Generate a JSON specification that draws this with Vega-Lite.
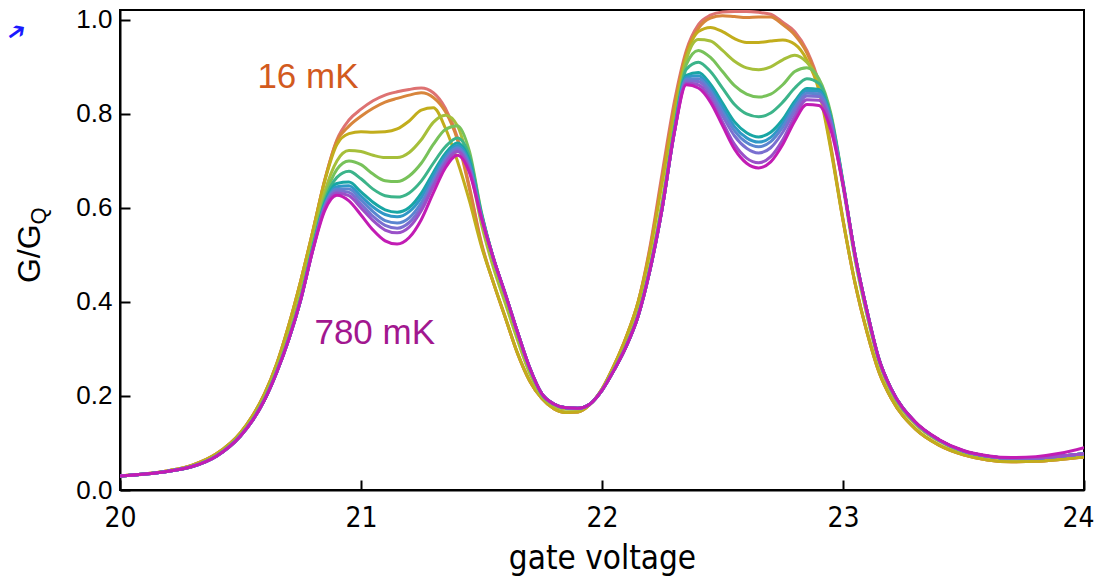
{
 "$schema": "https://vega.github.io/schema/vega-lite/v6.json",
 "width": 964, "height": 480,
 "autosize": {"type": "none"},
 "padding": {"left": 120, "top": 10, "right": 13, "bottom": 88},
 "background": "white",
 "config": {"view": {"stroke": "black", "strokeWidth": 2}, "font": "Liberation Sans"},
 "datasets": {
  "curves": [
{"c":0,"v":20,"g":0.030},{"c":0,"v":20.2,"g":0.041},{"c":0,"v":20.3,"g":0.053},{"c":0,"v":20.4,"g":0.077},{"c":0,"v":20.5,"g":0.122},{"c":0,"v":20.55,"g":0.158},{"c":0,"v":20.6,"g":0.205},{"c":0,"v":20.65,"g":0.268},{"c":0,"v":20.7,"g":0.35},{"c":0,"v":20.75,"g":0.445},{"c":0,"v":20.8,"g":0.55},
{"c":0,"v":20.85,"g":0.66},{"c":0,"v":20.9,"g":0.745},{"c":0,"v":20.95,"g":0.787},{"c":0,"v":21,"g":0.81},{"c":0,"v":21.05,"g":0.828},{"c":0,"v":21.1,"g":0.84},{"c":0,"v":21.15,"g":0.847},{"c":0,"v":21.2,"g":0.852},{"c":0,"v":21.25,"g":0.855},{"c":0,"v":21.3,"g":0.845},{"c":0,"v":21.35,"g":0.812},{"c":0,"v":21.4,"g":0.75},{"c":0,"v":21.45,"g":0.645},
{"c":0,"v":21.5,"g":0.525},{"c":0,"v":21.55,"g":0.44},{"c":0,"v":21.6,"g":0.365},{"c":0,"v":21.65,"g":0.29},{"c":0,"v":21.7,"g":0.232},{"c":0,"v":21.75,"g":0.195},{"c":0,"v":21.8,"g":0.173},{"c":0,"v":21.85,"g":0.165},{"c":0,"v":21.9,"g":0.166},{"c":0,"v":21.95,"g":0.182},{"c":0,"v":22,"g":0.215},{"c":0,"v":22.05,"g":0.265},{"c":0,"v":22.1,"g":0.325},{"c":0,"v":22.15,"g":0.40},{"c":0,"v":22.2,"g":0.52},{"c":0,"v":22.25,"g":0.675},{"c":0,"v":22.3,"g":0.825},
{"c":0,"v":22.35,"g":0.935},{"c":0,"v":22.4,"g":0.99},{"c":0,"v":22.45,"g":1.01},{"c":0,"v":22.5,"g":1.017},{"c":0,"v":22.55,"g":1.018},{"c":0,"v":22.6,"g":1.018},{"c":0,"v":22.65,"g":1.016},{"c":0,"v":22.7,"g":1.012},{"c":0,"v":22.75,"g":0.995},{"c":0,"v":22.8,"g":0.975},{"c":0,"v":22.85,"g":0.935},{"c":0,"v":22.9,"g":0.865},{"c":0,"v":22.95,"g":0.73},{"c":0,"v":23,"g":0.575},{"c":0,"v":23.05,"g":0.44},{"c":0,"v":23.1,"g":0.335},{"c":0,"v":23.15,"g":0.25},{"c":0,"v":23.2,"g":0.195},
{"c":0,"v":23.3,"g":0.13},{"c":0,"v":23.4,"g":0.095},{"c":0,"v":23.5,"g":0.075},{"c":0,"v":23.6,"g":0.064},{"c":0,"v":23.7,"g":0.06},{"c":0,"v":23.8,"g":0.061},{"c":0,"v":23.9,"g":0.065},{"c":0,"v":24,"g":0.07},

{"c":1,"v":20,"g":0.030},{"c":1,"v":20.2,"g":0.041},{"c":1,"v":20.3,"g":0.053},{"c":1,"v":20.4,"g":0.077},{"c":1,"v":20.5,"g":0.122},{"c":1,"v":20.55,"g":0.158},{"c":1,"v":20.6,"g":0.205},{"c":1,"v":20.65,"g":0.268},{"c":1,"v":20.7,"g":0.35},{"c":1,"v":20.75,"g":0.445},{"c":1,"v":20.8,"g":0.55},
{"c":1,"v":20.85,"g":0.66},{"c":1,"v":20.9,"g":0.742},{"c":1,"v":20.95,"g":0.774},{"c":1,"v":21,"g":0.795},{"c":1,"v":21.05,"g":0.812},{"c":1,"v":21.1,"g":0.825},{"c":1,"v":21.15,"g":0.833},{"c":1,"v":21.2,"g":0.84},{"c":1,"v":21.25,"g":0.845},{"c":1,"v":21.3,"g":0.835},{"c":1,"v":21.35,"g":0.805},{"c":1,"v":21.4,"g":0.745},{"c":1,"v":21.45,"g":0.64},
{"c":1,"v":21.5,"g":0.522},{"c":1,"v":21.55,"g":0.44},{"c":1,"v":21.6,"g":0.365},{"c":1,"v":21.65,"g":0.29},{"c":1,"v":21.7,"g":0.232},{"c":1,"v":21.75,"g":0.195},{"c":1,"v":21.8,"g":0.173},{"c":1,"v":21.85,"g":0.165},{"c":1,"v":21.9,"g":0.166},{"c":1,"v":21.95,"g":0.182},{"c":1,"v":22,"g":0.215},{"c":1,"v":22.05,"g":0.265},{"c":1,"v":22.1,"g":0.325},{"c":1,"v":22.15,"g":0.40},{"c":1,"v":22.2,"g":0.515},{"c":1,"v":22.25,"g":0.665},{"c":1,"v":22.3,"g":0.815},
{"c":1,"v":22.35,"g":0.93},{"c":1,"v":22.4,"g":0.982},{"c":1,"v":22.45,"g":1.004},{"c":1,"v":22.5,"g":1.009},{"c":1,"v":22.55,"g":1.007},{"c":1,"v":22.6,"g":1.005},{"c":1,"v":22.65,"g":1.006},{"c":1,"v":22.7,"g":1.006},{"c":1,"v":22.75,"g":0.99},{"c":1,"v":22.8,"g":0.968},{"c":1,"v":22.85,"g":0.93},{"c":1,"v":22.9,"g":0.86},{"c":1,"v":22.95,"g":0.727},{"c":1,"v":23,"g":0.575},{"c":1,"v":23.05,"g":0.44},{"c":1,"v":23.1,"g":0.335},{"c":1,"v":23.15,"g":0.25},{"c":1,"v":23.2,"g":0.195},
{"c":1,"v":23.3,"g":0.13},{"c":1,"v":23.4,"g":0.095},{"c":1,"v":23.5,"g":0.075},{"c":1,"v":23.6,"g":0.064},{"c":1,"v":23.7,"g":0.06},{"c":1,"v":23.8,"g":0.061},{"c":1,"v":23.9,"g":0.065},{"c":1,"v":24,"g":0.07},

{"c":2,"v":20,"g":0.030},{"c":2,"v":20.2,"g":0.041},{"c":2,"v":20.3,"g":0.053},{"c":2,"v":20.4,"g":0.077},{"c":2,"v":20.5,"g":0.122},{"c":2,"v":20.55,"g":0.158},{"c":2,"v":20.6,"g":0.205},{"c":2,"v":20.65,"g":0.268},{"c":2,"v":20.7,"g":0.35},{"c":2,"v":20.75,"g":0.445},{"c":2,"v":20.8,"g":0.55},
{"c":2,"v":20.85,"g":0.658},{"c":2,"v":20.9,"g":0.735},{"c":2,"v":20.95,"g":0.758},{"c":2,"v":21,"g":0.762},{"c":2,"v":21.05,"g":0.761},{"c":2,"v":21.1,"g":0.762},{"c":2,"v":21.15,"g":0.768},{"c":2,"v":21.2,"g":0.785},{"c":2,"v":21.25,"g":0.808},{"c":2,"v":21.3,"g":0.813},{"c":2,"v":21.35,"g":0.77},{"c":2,"v":21.4,"g":0.70},{"c":2,"v":21.45,"g":0.615},
{"c":2,"v":21.5,"g":0.518},{"c":2,"v":21.55,"g":0.44},{"c":2,"v":21.6,"g":0.365},{"c":2,"v":21.65,"g":0.29},{"c":2,"v":21.7,"g":0.232},{"c":2,"v":21.75,"g":0.195},{"c":2,"v":21.8,"g":0.173},{"c":2,"v":21.85,"g":0.165},{"c":2,"v":21.9,"g":0.166},{"c":2,"v":21.95,"g":0.182},{"c":2,"v":22,"g":0.215},{"c":2,"v":22.05,"g":0.265},{"c":2,"v":22.1,"g":0.325},{"c":2,"v":22.15,"g":0.40},{"c":2,"v":22.2,"g":0.51},{"c":2,"v":22.25,"g":0.655},{"c":2,"v":22.3,"g":0.805},
{"c":2,"v":22.35,"g":0.922},{"c":2,"v":22.4,"g":0.975},{"c":2,"v":22.45,"g":0.984},{"c":2,"v":22.5,"g":0.975},{"c":2,"v":22.55,"g":0.96},{"c":2,"v":22.6,"g":0.952},{"c":2,"v":22.65,"g":0.952},{"c":2,"v":22.7,"g":0.955},{"c":2,"v":22.75,"g":0.957},{"c":2,"v":22.8,"g":0.948},{"c":2,"v":22.85,"g":0.915},{"c":2,"v":22.9,"g":0.85},{"c":2,"v":22.95,"g":0.722},{"c":2,"v":23,"g":0.573},{"c":2,"v":23.05,"g":0.44},{"c":2,"v":23.1,"g":0.335},{"c":2,"v":23.15,"g":0.25},{"c":2,"v":23.2,"g":0.195},
{"c":2,"v":23.3,"g":0.13},{"c":2,"v":23.4,"g":0.095},{"c":2,"v":23.5,"g":0.075},{"c":2,"v":23.6,"g":0.064},{"c":2,"v":23.7,"g":0.06},{"c":2,"v":23.8,"g":0.061},{"c":2,"v":23.9,"g":0.065},{"c":2,"v":24,"g":0.07},

{"c":3,"v":20,"g":0.030},{"c":3,"v":20.2,"g":0.040},{"c":3,"v":20.3,"g":0.051},{"c":3,"v":20.4,"g":0.074},{"c":3,"v":20.5,"g":0.118},{"c":3,"v":20.55,"g":0.152},{"c":3,"v":20.6,"g":0.198},{"c":3,"v":20.65,"g":0.258},{"c":3,"v":20.7,"g":0.33},{"c":3,"v":20.75,"g":0.42},
{"c":3,"v":20.8,"g":0.53},{"c":3,"v":20.85,"g":0.635},{"c":3,"v":20.9,"g":0.70},{"c":3,"v":20.95,"g":0.722},{"c":3,"v":21,"g":0.72},{"c":3,"v":21.05,"g":0.712},{"c":3,"v":21.1,"g":0.707},{"c":3,"v":21.15,"g":0.707},{"c":3,"v":21.2,"g":0.718},{"c":3,"v":21.25,"g":0.745},{"c":3,"v":21.3,"g":0.782},{"c":3,"v":21.35,"g":0.797},{"c":3,"v":21.4,"g":0.775},{"c":3,"v":21.45,"g":0.69},{"c":3,"v":21.5,"g":0.565},
{"c":3,"v":21.55,"g":0.472},{"c":3,"v":21.6,"g":0.395},{"c":3,"v":21.65,"g":0.318},{"c":3,"v":21.7,"g":0.248},{"c":3,"v":21.75,"g":0.20},{"c":3,"v":21.8,"g":0.18},{"c":3,"v":21.85,"g":0.172},{"c":3,"v":21.9,"g":0.172},{"c":3,"v":21.95,"g":0.183},{"c":3,"v":22,"g":0.213},{"c":3,"v":22.05,"g":0.258},{"c":3,"v":22.1,"g":0.31},{"c":3,"v":22.15,"g":0.378},{"c":3,"v":22.2,"g":0.48},{"c":3,"v":22.25,"g":0.615},
{"c":3,"v":22.3,"g":0.78},{"c":3,"v":22.35,"g":0.915},{"c":3,"v":22.4,"g":0.958},{"c":3,"v":22.45,"g":0.955},{"c":3,"v":22.5,"g":0.935},{"c":3,"v":22.55,"g":0.912},{"c":3,"v":22.6,"g":0.898},{"c":3,"v":22.65,"g":0.894},{"c":3,"v":22.7,"g":0.90},{"c":3,"v":22.75,"g":0.915},{"c":3,"v":22.8,"g":0.925},{"c":3,"v":22.85,"g":0.91},{"c":3,"v":22.9,"g":0.87},{"c":3,"v":22.95,"g":0.78},{"c":3,"v":23,"g":0.645},
{"c":3,"v":23.05,"g":0.49},{"c":3,"v":23.1,"g":0.37},{"c":3,"v":23.15,"g":0.27},{"c":3,"v":23.2,"g":0.208},{"c":3,"v":23.3,"g":0.14},{"c":3,"v":23.4,"g":0.103},{"c":3,"v":23.5,"g":0.08},{"c":3,"v":23.6,"g":0.07},{"c":3,"v":23.7,"g":0.066},{"c":3,"v":23.8,"g":0.067},{"c":3,"v":23.9,"g":0.071},{"c":3,"v":24,"g":0.076},

{"c":4,"v":20,"g":0.030},{"c":4,"v":20.2,"g":0.040},{"c":4,"v":20.3,"g":0.050},{"c":4,"v":20.4,"g":0.073},{"c":4,"v":20.5,"g":0.116},{"c":4,"v":20.55,"g":0.150},{"c":4,"v":20.6,"g":0.195},{"c":4,"v":20.65,"g":0.254},{"c":4,"v":20.7,"g":0.325},{"c":4,"v":20.75,"g":0.412},
{"c":4,"v":20.8,"g":0.522},{"c":4,"v":20.85,"g":0.622},{"c":4,"v":20.9,"g":0.682},{"c":4,"v":20.95,"g":0.70},{"c":4,"v":21,"g":0.692},{"c":4,"v":21.05,"g":0.672},{"c":4,"v":21.1,"g":0.658},{"c":4,"v":21.15,"g":0.656},{"c":4,"v":21.2,"g":0.668},{"c":4,"v":21.25,"g":0.695},{"c":4,"v":21.3,"g":0.735},{"c":4,"v":21.35,"g":0.767},{"c":4,"v":21.4,"g":0.775},{"c":4,"v":21.45,"g":0.72},{"c":4,"v":21.5,"g":0.59},
{"c":4,"v":21.55,"g":0.492},{"c":4,"v":21.6,"g":0.413},{"c":4,"v":21.65,"g":0.333},{"c":4,"v":21.7,"g":0.258},{"c":4,"v":21.75,"g":0.204},{"c":4,"v":21.8,"g":0.182},{"c":4,"v":21.85,"g":0.175},{"c":4,"v":21.9,"g":0.174},{"c":4,"v":21.95,"g":0.183},{"c":4,"v":22,"g":0.212},{"c":4,"v":22.05,"g":0.256},{"c":4,"v":22.1,"g":0.307},{"c":4,"v":22.15,"g":0.373},{"c":4,"v":22.2,"g":0.475},{"c":4,"v":22.25,"g":0.607},
{"c":4,"v":22.3,"g":0.772},{"c":4,"v":22.35,"g":0.905},{"c":4,"v":22.4,"g":0.935},{"c":4,"v":22.45,"g":0.92},{"c":4,"v":22.5,"g":0.89},{"c":4,"v":22.55,"g":0.86},{"c":4,"v":22.6,"g":0.842},{"c":4,"v":22.65,"g":0.836},{"c":4,"v":22.7,"g":0.842},{"c":4,"v":22.75,"g":0.862},{"c":4,"v":22.8,"g":0.89},{"c":4,"v":22.85,"g":0.898},{"c":4,"v":22.9,"g":0.875},{"c":4,"v":22.95,"g":0.80},{"c":4,"v":23,"g":0.655},
{"c":4,"v":23.05,"g":0.50},{"c":4,"v":23.1,"g":0.38},{"c":4,"v":23.15,"g":0.277},{"c":4,"v":23.2,"g":0.214},{"c":4,"v":23.3,"g":0.144},{"c":4,"v":23.4,"g":0.106},{"c":4,"v":23.5,"g":0.083},{"c":4,"v":23.6,"g":0.072},{"c":4,"v":23.7,"g":0.068},{"c":4,"v":23.8,"g":0.068},{"c":4,"v":23.9,"g":0.072},{"c":4,"v":24,"g":0.077},

{"c":5,"v":20,"g":0.030},{"c":5,"v":20.2,"g":0.040},{"c":5,"v":20.3,"g":0.050},{"c":5,"v":20.4,"g":0.072},{"c":5,"v":20.5,"g":0.115},{"c":5,"v":20.55,"g":0.148},{"c":5,"v":20.6,"g":0.192},{"c":5,"v":20.65,"g":0.25},{"c":5,"v":20.7,"g":0.32},{"c":5,"v":20.75,"g":0.405},
{"c":5,"v":20.8,"g":0.515},{"c":5,"v":20.85,"g":0.615},{"c":5,"v":20.9,"g":0.665},{"c":5,"v":20.95,"g":0.678},{"c":5,"v":21,"g":0.662},{"c":5,"v":21.05,"g":0.64},{"c":5,"v":21.1,"g":0.626},{"c":5,"v":21.15,"g":0.623},{"c":5,"v":21.2,"g":0.632},{"c":5,"v":21.25,"g":0.657},{"c":5,"v":21.3,"g":0.695},{"c":5,"v":21.35,"g":0.73},{"c":5,"v":21.4,"g":0.749},{"c":5,"v":21.45,"g":0.71},{"c":5,"v":21.5,"g":0.588},
{"c":5,"v":21.55,"g":0.492},{"c":5,"v":21.6,"g":0.415},{"c":5,"v":21.65,"g":0.335},{"c":5,"v":21.7,"g":0.26},{"c":5,"v":21.75,"g":0.205},{"c":5,"v":21.8,"g":0.183},{"c":5,"v":21.85,"g":0.175},{"c":5,"v":21.9,"g":0.174},{"c":5,"v":21.95,"g":0.183},{"c":5,"v":22,"g":0.212},{"c":5,"v":22.05,"g":0.255},{"c":5,"v":22.1,"g":0.305},{"c":5,"v":22.15,"g":0.37},{"c":5,"v":22.2,"g":0.47},{"c":5,"v":22.25,"g":0.60},
{"c":5,"v":22.3,"g":0.765},{"c":5,"v":22.35,"g":0.895},{"c":5,"v":22.4,"g":0.91},{"c":5,"v":22.45,"g":0.89},{"c":5,"v":22.5,"g":0.855},{"c":5,"v":22.55,"g":0.82},{"c":5,"v":22.6,"g":0.80},{"c":5,"v":22.65,"g":0.794},{"c":5,"v":22.7,"g":0.802},{"c":5,"v":22.75,"g":0.825},{"c":5,"v":22.8,"g":0.855},{"c":5,"v":22.85,"g":0.875},{"c":5,"v":22.9,"g":0.865},{"c":5,"v":22.95,"g":0.795},{"c":5,"v":23,"g":0.655},
{"c":5,"v":23.05,"g":0.50},{"c":5,"v":23.1,"g":0.38},{"c":5,"v":23.15,"g":0.277},{"c":5,"v":23.2,"g":0.215},{"c":5,"v":23.3,"g":0.144},{"c":5,"v":23.4,"g":0.106},{"c":5,"v":23.5,"g":0.083},{"c":5,"v":23.6,"g":0.072},{"c":5,"v":23.7,"g":0.068},{"c":5,"v":23.8,"g":0.068},{"c":5,"v":23.9,"g":0.072},{"c":5,"v":24,"g":0.077},

{"c":6,"v":20,"g":0.030},{"c":6,"v":20.2,"g":0.040},{"c":6,"v":20.3,"g":0.050},{"c":6,"v":20.4,"g":0.072},{"c":6,"v":20.5,"g":0.115},{"c":6,"v":20.55,"g":0.148},{"c":6,"v":20.6,"g":0.192},{"c":6,"v":20.65,"g":0.25},{"c":6,"v":20.7,"g":0.32},{"c":6,"v":20.75,"g":0.405},
{"c":6,"v":20.8,"g":0.515},{"c":6,"v":20.85,"g":0.61},{"c":6,"v":20.9,"g":0.652},{"c":6,"v":20.95,"g":0.655},{"c":6,"v":21,"g":0.634},{"c":6,"v":21.05,"g":0.612},{"c":6,"v":21.1,"g":0.596},{"c":6,"v":21.15,"g":0.591},{"c":6,"v":21.2,"g":0.601},{"c":6,"v":21.25,"g":0.631},{"c":6,"v":21.3,"g":0.675},{"c":6,"v":21.35,"g":0.716},{"c":6,"v":21.4,"g":0.738},{"c":6,"v":21.45,"g":0.70},{"c":6,"v":21.5,"g":0.585},
{"c":6,"v":21.55,"g":0.492},{"c":6,"v":21.6,"g":0.415},{"c":6,"v":21.65,"g":0.335},{"c":6,"v":21.7,"g":0.26},{"c":6,"v":21.75,"g":0.205},{"c":6,"v":21.8,"g":0.183},{"c":6,"v":21.85,"g":0.175},{"c":6,"v":21.9,"g":0.174},{"c":6,"v":21.95,"g":0.183},{"c":6,"v":22,"g":0.212},{"c":6,"v":22.05,"g":0.255},{"c":6,"v":22.1,"g":0.305},{"c":6,"v":22.15,"g":0.37},{"c":6,"v":22.2,"g":0.47},{"c":6,"v":22.25,"g":0.60},
{"c":6,"v":22.3,"g":0.762},{"c":6,"v":22.35,"g":0.882},{"c":6,"v":22.4,"g":0.888},{"c":6,"v":22.45,"g":0.863},{"c":6,"v":22.5,"g":0.823},{"c":6,"v":22.55,"g":0.783},{"c":6,"v":22.6,"g":0.76},{"c":6,"v":22.65,"g":0.751},{"c":6,"v":22.7,"g":0.761},{"c":6,"v":22.75,"g":0.788},{"c":6,"v":22.8,"g":0.827},{"c":6,"v":22.85,"g":0.854},{"c":6,"v":22.9,"g":0.852},{"c":6,"v":22.95,"g":0.79},{"c":6,"v":23,"g":0.652},
{"c":6,"v":23.05,"g":0.50},{"c":6,"v":23.1,"g":0.38},{"c":6,"v":23.15,"g":0.277},{"c":6,"v":23.2,"g":0.215},{"c":6,"v":23.3,"g":0.144},{"c":6,"v":23.4,"g":0.106},{"c":6,"v":23.5,"g":0.083},{"c":6,"v":23.6,"g":0.072},{"c":6,"v":23.7,"g":0.068},{"c":6,"v":23.8,"g":0.068},{"c":6,"v":23.9,"g":0.072},{"c":6,"v":24,"g":0.077},

{"c":7,"v":20,"g":0.030},{"c":7,"v":20.2,"g":0.040},{"c":7,"v":20.3,"g":0.050},{"c":7,"v":20.4,"g":0.072},{"c":7,"v":20.5,"g":0.115},{"c":7,"v":20.55,"g":0.148},{"c":7,"v":20.6,"g":0.192},{"c":7,"v":20.65,"g":0.25},{"c":7,"v":20.7,"g":0.32},{"c":7,"v":20.75,"g":0.405},
{"c":7,"v":20.8,"g":0.513},{"c":7,"v":20.85,"g":0.607},{"c":7,"v":20.9,"g":0.645},{"c":7,"v":20.95,"g":0.647},{"c":7,"v":21,"g":0.625},{"c":7,"v":21.05,"g":0.602},{"c":7,"v":21.1,"g":0.586},{"c":7,"v":21.15,"g":0.581},{"c":7,"v":21.2,"g":0.592},{"c":7,"v":21.25,"g":0.622},{"c":7,"v":21.3,"g":0.668},{"c":7,"v":21.35,"g":0.71},{"c":7,"v":21.4,"g":0.733},{"c":7,"v":21.45,"g":0.695},{"c":7,"v":21.5,"g":0.583},
{"c":7,"v":21.55,"g":0.492},{"c":7,"v":21.6,"g":0.415},{"c":7,"v":21.65,"g":0.335},{"c":7,"v":21.7,"g":0.26},{"c":7,"v":21.75,"g":0.205},{"c":7,"v":21.8,"g":0.183},{"c":7,"v":21.85,"g":0.175},{"c":7,"v":21.9,"g":0.174},{"c":7,"v":21.95,"g":0.183},{"c":7,"v":22,"g":0.212},{"c":7,"v":22.05,"g":0.255},{"c":7,"v":22.1,"g":0.305},{"c":7,"v":22.15,"g":0.37},{"c":7,"v":22.2,"g":0.47},{"c":7,"v":22.25,"g":0.60},
{"c":7,"v":22.3,"g":0.761},{"c":7,"v":22.35,"g":0.878},{"c":7,"v":22.4,"g":0.881},{"c":7,"v":22.45,"g":0.856},{"c":7,"v":22.5,"g":0.814},{"c":7,"v":22.55,"g":0.773},{"c":7,"v":22.6,"g":0.749},{"c":7,"v":22.65,"g":0.74},{"c":7,"v":22.7,"g":0.75},{"c":7,"v":22.75,"g":0.78},{"c":7,"v":22.8,"g":0.821},{"c":7,"v":22.85,"g":0.849},{"c":7,"v":22.9,"g":0.848},{"c":7,"v":22.95,"g":0.788},{"c":7,"v":23,"g":0.652},
{"c":7,"v":23.05,"g":0.50},{"c":7,"v":23.1,"g":0.38},{"c":7,"v":23.15,"g":0.277},{"c":7,"v":23.2,"g":0.215},{"c":7,"v":23.3,"g":0.144},{"c":7,"v":23.4,"g":0.106},{"c":7,"v":23.5,"g":0.083},{"c":7,"v":23.6,"g":0.072},{"c":7,"v":23.7,"g":0.068},{"c":7,"v":23.8,"g":0.068},{"c":7,"v":23.9,"g":0.072},{"c":7,"v":24,"g":0.077},

{"c":8,"v":20,"g":0.030},{"c":8,"v":20.2,"g":0.040},{"c":8,"v":20.3,"g":0.050},{"c":8,"v":20.4,"g":0.072},{"c":8,"v":20.5,"g":0.115},{"c":8,"v":20.55,"g":0.148},{"c":8,"v":20.6,"g":0.192},{"c":8,"v":20.65,"g":0.25},{"c":8,"v":20.7,"g":0.32},{"c":8,"v":20.75,"g":0.405},
{"c":8,"v":20.8,"g":0.512},{"c":8,"v":20.85,"g":0.605},{"c":8,"v":20.9,"g":0.64},{"c":8,"v":20.95,"g":0.64},{"c":8,"v":21,"g":0.617},{"c":8,"v":21.05,"g":0.592},{"c":8,"v":21.1,"g":0.573},{"c":8,"v":21.15,"g":0.568},{"c":8,"v":21.2,"g":0.579},{"c":8,"v":21.25,"g":0.611},{"c":8,"v":21.3,"g":0.659},{"c":8,"v":21.35,"g":0.704},{"c":8,"v":21.4,"g":0.728},{"c":8,"v":21.45,"g":0.69},{"c":8,"v":21.5,"g":0.582},
{"c":8,"v":21.55,"g":0.492},{"c":8,"v":21.6,"g":0.415},{"c":8,"v":21.65,"g":0.335},{"c":8,"v":21.7,"g":0.26},{"c":8,"v":21.75,"g":0.205},{"c":8,"v":21.8,"g":0.183},{"c":8,"v":21.85,"g":0.175},{"c":8,"v":21.9,"g":0.174},{"c":8,"v":21.95,"g":0.183},{"c":8,"v":22,"g":0.212},{"c":8,"v":22.05,"g":0.255},{"c":8,"v":22.1,"g":0.305},{"c":8,"v":22.15,"g":0.37},{"c":8,"v":22.2,"g":0.47},{"c":8,"v":22.25,"g":0.60},
{"c":8,"v":22.3,"g":0.76},{"c":8,"v":22.35,"g":0.874},{"c":8,"v":22.4,"g":0.875},{"c":8,"v":22.45,"g":0.849},{"c":8,"v":22.5,"g":0.805},{"c":8,"v":22.55,"g":0.764},{"c":8,"v":22.6,"g":0.739},{"c":8,"v":22.65,"g":0.73},{"c":8,"v":22.7,"g":0.741},{"c":8,"v":22.75,"g":0.772},{"c":8,"v":22.8,"g":0.814},{"c":8,"v":22.85,"g":0.844},{"c":8,"v":22.9,"g":0.843},{"c":8,"v":22.95,"g":0.785},{"c":8,"v":23,"g":0.651},
{"c":8,"v":23.05,"g":0.50},{"c":8,"v":23.1,"g":0.38},{"c":8,"v":23.15,"g":0.277},{"c":8,"v":23.2,"g":0.215},{"c":8,"v":23.3,"g":0.144},{"c":8,"v":23.4,"g":0.106},{"c":8,"v":23.5,"g":0.083},{"c":8,"v":23.6,"g":0.072},{"c":8,"v":23.7,"g":0.068},{"c":8,"v":23.8,"g":0.068},{"c":8,"v":23.9,"g":0.072},{"c":8,"v":24,"g":0.077},

{"c":9,"v":20,"g":0.030},{"c":9,"v":20.2,"g":0.040},{"c":9,"v":20.3,"g":0.050},{"c":9,"v":20.4,"g":0.072},{"c":9,"v":20.5,"g":0.115},{"c":9,"v":20.55,"g":0.148},{"c":9,"v":20.6,"g":0.192},{"c":9,"v":20.65,"g":0.25},{"c":9,"v":20.7,"g":0.32},{"c":9,"v":20.75,"g":0.405},
{"c":9,"v":20.8,"g":0.511},{"c":9,"v":20.85,"g":0.603},{"c":9,"v":20.9,"g":0.636},{"c":9,"v":20.95,"g":0.633},{"c":9,"v":21,"g":0.608},{"c":9,"v":21.05,"g":0.582},{"c":9,"v":21.1,"g":0.563},{"c":9,"v":21.15,"g":0.557},{"c":9,"v":21.2,"g":0.569},{"c":9,"v":21.25,"g":0.602},{"c":9,"v":21.3,"g":0.652},{"c":9,"v":21.35,"g":0.699},{"c":9,"v":21.4,"g":0.724},{"c":9,"v":21.45,"g":0.685},{"c":9,"v":21.5,"g":0.581},
{"c":9,"v":21.55,"g":0.492},{"c":9,"v":21.6,"g":0.415},{"c":9,"v":21.65,"g":0.335},{"c":9,"v":21.7,"g":0.26},{"c":9,"v":21.75,"g":0.205},{"c":9,"v":21.8,"g":0.183},{"c":9,"v":21.85,"g":0.175},{"c":9,"v":21.9,"g":0.174},{"c":9,"v":21.95,"g":0.183},{"c":9,"v":22,"g":0.212},{"c":9,"v":22.05,"g":0.255},{"c":9,"v":22.1,"g":0.305},{"c":9,"v":22.15,"g":0.37},{"c":9,"v":22.2,"g":0.47},{"c":9,"v":22.25,"g":0.60},
{"c":9,"v":22.3,"g":0.76},{"c":9,"v":22.35,"g":0.87},{"c":9,"v":22.4,"g":0.869},{"c":9,"v":22.45,"g":0.842},{"c":9,"v":22.5,"g":0.796},{"c":9,"v":22.55,"g":0.753},{"c":9,"v":22.6,"g":0.727},{"c":9,"v":22.65,"g":0.717},{"c":9,"v":22.7,"g":0.728},{"c":9,"v":22.75,"g":0.761},{"c":9,"v":22.8,"g":0.806},{"c":9,"v":22.85,"g":0.838},{"c":9,"v":22.9,"g":0.837},{"c":9,"v":22.95,"g":0.78},{"c":9,"v":23,"g":0.65},
{"c":9,"v":23.05,"g":0.50},{"c":9,"v":23.1,"g":0.38},{"c":9,"v":23.15,"g":0.277},{"c":9,"v":23.2,"g":0.215},{"c":9,"v":23.3,"g":0.144},{"c":9,"v":23.4,"g":0.106},{"c":9,"v":23.5,"g":0.083},{"c":9,"v":23.6,"g":0.072},{"c":9,"v":23.7,"g":0.068},{"c":9,"v":23.8,"g":0.068},{"c":9,"v":23.9,"g":0.072},{"c":9,"v":24,"g":0.077},

{"c":10,"v":20,"g":0.030},{"c":10,"v":20.2,"g":0.040},{"c":10,"v":20.3,"g":0.050},{"c":10,"v":20.4,"g":0.072},{"c":10,"v":20.5,"g":0.115},{"c":10,"v":20.55,"g":0.148},{"c":10,"v":20.6,"g":0.192},{"c":10,"v":20.65,"g":0.25},{"c":10,"v":20.7,"g":0.32},{"c":10,"v":20.75,"g":0.405},
{"c":10,"v":20.8,"g":0.51},{"c":10,"v":20.85,"g":0.60},{"c":10,"v":20.9,"g":0.632},{"c":10,"v":20.95,"g":0.626},{"c":10,"v":21,"g":0.60},{"c":10,"v":21.05,"g":0.573},{"c":10,"v":21.1,"g":0.553},{"c":10,"v":21.15,"g":0.547},{"c":10,"v":21.2,"g":0.559},{"c":10,"v":21.25,"g":0.594},{"c":10,"v":21.3,"g":0.646},{"c":10,"v":21.35,"g":0.694},{"c":10,"v":21.4,"g":0.72},{"c":10,"v":21.45,"g":0.68},{"c":10,"v":21.5,"g":0.58},
{"c":10,"v":21.55,"g":0.492},{"c":10,"v":21.6,"g":0.415},{"c":10,"v":21.65,"g":0.335},{"c":10,"v":21.7,"g":0.26},{"c":10,"v":21.75,"g":0.205},{"c":10,"v":21.8,"g":0.183},{"c":10,"v":21.85,"g":0.175},{"c":10,"v":21.9,"g":0.174},{"c":10,"v":21.95,"g":0.183},{"c":10,"v":22,"g":0.212},{"c":10,"v":22.05,"g":0.255},{"c":10,"v":22.1,"g":0.305},{"c":10,"v":22.15,"g":0.37},{"c":10,"v":22.2,"g":0.47},{"c":10,"v":22.25,"g":0.60},
{"c":10,"v":22.3,"g":0.76},{"c":10,"v":22.35,"g":0.865},{"c":10,"v":22.4,"g":0.862},{"c":10,"v":22.45,"g":0.832},{"c":10,"v":22.5,"g":0.783},{"c":10,"v":22.55,"g":0.735},{"c":10,"v":22.6,"g":0.706},{"c":10,"v":22.65,"g":0.696},{"c":10,"v":22.7,"g":0.709},{"c":10,"v":22.75,"g":0.745},{"c":10,"v":22.8,"g":0.795},{"c":10,"v":22.85,"g":0.83},{"c":10,"v":22.9,"g":0.829},{"c":10,"v":22.95,"g":0.775},{"c":10,"v":23,"g":0.65},
{"c":10,"v":23.05,"g":0.50},{"c":10,"v":23.1,"g":0.38},{"c":10,"v":23.15,"g":0.277},{"c":10,"v":23.2,"g":0.215},{"c":10,"v":23.3,"g":0.144},{"c":10,"v":23.4,"g":0.106},{"c":10,"v":23.5,"g":0.083},{"c":10,"v":23.6,"g":0.072},{"c":10,"v":23.7,"g":0.068},{"c":10,"v":23.8,"g":0.068},{"c":10,"v":23.9,"g":0.072},{"c":10,"v":24,"g":0.077},

{"c":11,"v":20,"g":0.030},{"c":11,"v":20.2,"g":0.040},{"c":11,"v":20.3,"g":0.050},{"c":11,"v":20.4,"g":0.072},{"c":11,"v":20.5,"g":0.115},{"c":11,"v":20.55,"g":0.148},{"c":11,"v":20.6,"g":0.192},{"c":11,"v":20.65,"g":0.25},{"c":11,"v":20.7,"g":0.32},{"c":11,"v":20.75,"g":0.405},
{"c":11,"v":20.8,"g":0.51},{"c":11,"v":20.85,"g":0.595},{"c":11,"v":20.9,"g":0.627},{"c":11,"v":20.95,"g":0.615},{"c":11,"v":21,"g":0.585},{"c":11,"v":21.05,"g":0.553},{"c":11,"v":21.1,"g":0.53},{"c":11,"v":21.15,"g":0.523},{"c":11,"v":21.2,"g":0.537},{"c":11,"v":21.25,"g":0.575},{"c":11,"v":21.3,"g":0.632},{"c":11,"v":21.35,"g":0.685},{"c":11,"v":21.4,"g":0.712},{"c":11,"v":21.45,"g":0.675},{"c":11,"v":21.5,"g":0.578},
{"c":11,"v":21.55,"g":0.492},{"c":11,"v":21.6,"g":0.415},{"c":11,"v":21.65,"g":0.335},{"c":11,"v":21.7,"g":0.26},{"c":11,"v":21.75,"g":0.205},{"c":11,"v":21.8,"g":0.183},{"c":11,"v":21.85,"g":0.175},{"c":11,"v":21.9,"g":0.174},{"c":11,"v":21.95,"g":0.183},{"c":11,"v":22,"g":0.212},{"c":11,"v":22.05,"g":0.255},{"c":11,"v":22.1,"g":0.305},{"c":11,"v":22.15,"g":0.37},{"c":11,"v":22.2,"g":0.47},{"c":11,"v":22.25,"g":0.60},
{"c":11,"v":22.3,"g":0.76},{"c":11,"v":22.35,"g":0.862},{"c":11,"v":22.4,"g":0.855},{"c":11,"v":22.45,"g":0.825},{"c":11,"v":22.5,"g":0.775},{"c":11,"v":22.55,"g":0.725},{"c":11,"v":22.6,"g":0.695},{"c":11,"v":22.65,"g":0.685},{"c":11,"v":22.7,"g":0.698},{"c":11,"v":22.75,"g":0.735},{"c":11,"v":22.8,"g":0.785},{"c":11,"v":22.85,"g":0.82},{"c":11,"v":22.9,"g":0.818},{"c":11,"v":22.95,"g":0.765},{"c":11,"v":23,"g":0.65},
{"c":11,"v":23.05,"g":0.50},{"c":11,"v":23.1,"g":0.38},{"c":11,"v":23.15,"g":0.277},{"c":11,"v":23.2,"g":0.215},{"c":11,"v":23.3,"g":0.145},{"c":11,"v":23.4,"g":0.107},{"c":11,"v":23.5,"g":0.084},{"c":11,"v":23.6,"g":0.073},{"c":11,"v":23.7,"g":0.069},{"c":11,"v":23.8,"g":0.071},{"c":11,"v":23.9,"g":0.078},{"c":11,"v":24,"g":0.09}
  ]
 },
 "layer": [
  {
   "data": {"name": "curves"},
   "mark": {"type": "line", "strokeWidth": 3, "interpolate": "monotone", "clip": true, "strokeCap": "round", "strokeJoin": "round"},
   "encoding": {
    "x": {"field": "v", "type": "quantitative",
      "scale": {"domain": [20, 24], "nice": false, "zero": false},
      "axis": {"values": [20, 21, 22, 23, 24], "format": "d", "grid": false, "labelFlush": false,
        "labelAlign": {"condition": {"test": "datum.value == 24", "value": "right"}, "value": "center"},
        "labelOffset": {"condition": {"test": "datum.value == 24", "value": 10}, "value": 0},
        "domainColor": "black", "domainWidth": 2, "tickColor": "black", "tickWidth": 2, "tickSize": -10,
        "labelFont": "Liberation Sans Narrow, DejaVu Sans Condensed, Liberation Sans", "labelFontSize": 28, "labelColor": "black", "labelPadding": 24,
        "title": "gate voltage", "titleFont": "Liberation Sans Narrow, DejaVu Sans Condensed, Liberation Sans", "titleFontSize": 33, "titleFontWeight": "normal", "titleColor": "black", "titlePadding": 10}},
    "y": {"field": "g", "type": "quantitative",
      "scale": {"domain": [0, 1.021], "nice": false, "zero": true},
      "axis": {"values": [0, 0.2, 0.4, 0.6, 0.8, 1.0], "format": ".1f", "grid": false,
        "domainColor": "black", "domainWidth": 2, "tickColor": "black", "tickWidth": 2, "tickSize": -10,
        "labelFont": "Liberation Sans", "labelFontSize": 26, "labelColor": "black", "labelPadding": 18,
        "title": null}},
    "color": {"field": "c", "type": "nominal", "legend": null,
      "scale": {"domain": [0,1,2,3,4,5,6,7,8,9,10,11],
        "range": ["#de7272", "#d8853c", "#c2ad1c", "#a6bf3a", "#78c25a", "#3cb48a", "#18a6a4", "#2f98c6", "#5a86d0", "#7a6fd0", "#9a50c8", "#c21cb4"]}}
   }
  },
  {
   "data": {"values": [{"label": "16 mK"}]},
   "mark": {"type": "text", "fontSize": 35, "color": "#d25a1e", "align": "center", "baseline": "middle", "font": "Liberation Sans"},
   "encoding": {"x": {"datum": 20.78}, "y": {"datum": 0.879}, "text": {"field": "label"}}
  },
  {
   "data": {"values": [{"label": "780 mK"}]},
   "mark": {"type": "text", "fontSize": 35, "color": "#a2178f", "align": "center", "baseline": "middle", "font": "Liberation Sans"},
   "encoding": {"x": {"datum": 21.057}, "y": {"datum": 0.334}, "text": {"field": "label"}}
  },
  {
   "data": {"values": [{"label": "G/G"}]},
   "mark": {"type": "text", "fontSize": 32, "color": "black", "align": "right", "baseline": "middle", "angle": 270, "font": "Liberation Sans"},
   "encoding": {"x": {"datum": 19.627}, "y": {"datum": 0.565}, "text": {"field": "label"}}
  },
  {
   "data": {"values": [{"label": "Q"}]},
   "mark": {"type": "text", "fontSize": 22, "color": "black", "align": "left", "baseline": "middle", "angle": 270, "dy": 9, "font": "Liberation Sans"},
   "encoding": {"x": {"datum": 19.627}, "y": {"datum": 0.565}, "text": {"field": "label"}}
  },
  {
   "data": {"values": [{"label": "➔"}]},
   "mark": {"type": "text", "fontSize": 24, "color": "#1a1aff", "align": "center", "baseline": "middle", "angle": -35, "font": "DejaVu Sans"},
   "encoding": {"x": {"datum": 19.572}, "y": {"datum": 0.973}, "text": {"field": "label"}}
  }
 ]
}
